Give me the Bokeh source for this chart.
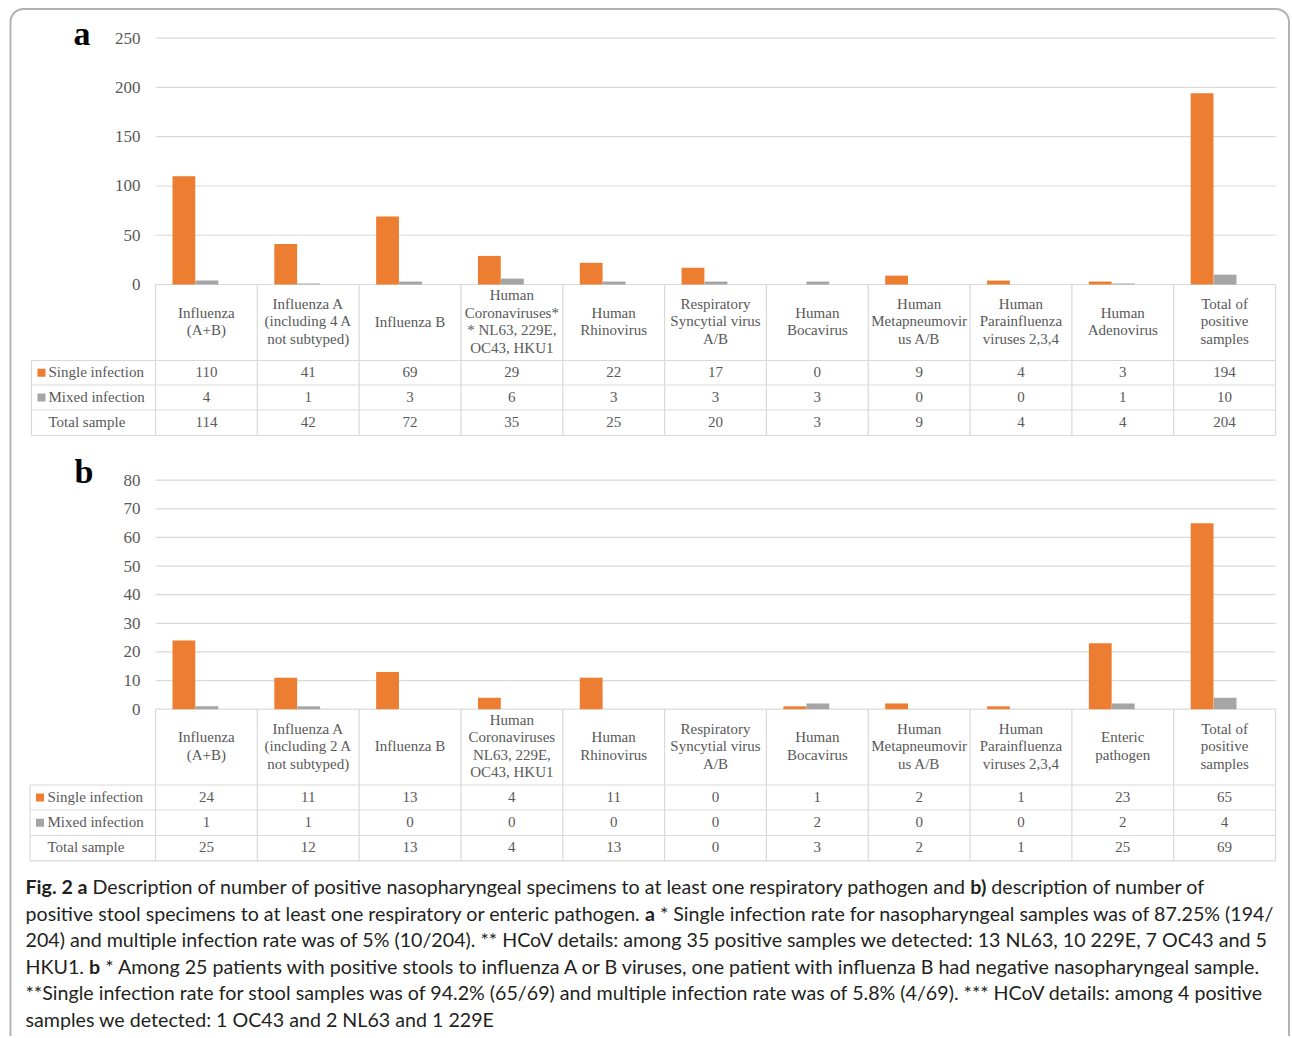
import os
import glob
import subprocess
import numpy as np
from bokeh.plotting import figure
from bokeh.models import Range1d, LinearAxis, FixedTicker, BoxAnnotation
from bokeh.embed import file_html
from bokeh.resources import INLINE
from bokeh.core.properties import value

# ------------------------------------------------------------------ data
categories_a = [
    "Influenza\n(A+B)",
    "Influenza A\n(including 4 A\nnot subtyped)",
    "Influenza B",
    "Human\nCoronaviruses*\n* NL63, 229E,\nOC43, HKU1",
    "Human\nRhinovirus",
    "Respiratory\nSyncytial virus\nA/B",
    "Human\nBocavirus",
    "Human\nMetapneumovir\nus A/B",
    "Human\nParainfluenza\nviruses 2,3,4",
    "Human\nAdenovirus",
    "Total of\npositive\nsamples",
]
single_a = [110, 41, 69, 29, 22, 17, 0, 9, 4, 3, 194]
mixed_a = [4, 1, 3, 6, 3, 3, 3, 0, 0, 1, 10]
total_a = [114, 42, 72, 35, 25, 20, 3, 9, 4, 4, 204]
ticks_a = [0, 50, 100, 150, 200, 250]

categories_b = [
    "Influenza\n(A+B)",
    "Influenza A\n(including 2 A\nnot subtyped)",
    "Influenza B",
    "Human\nCoronaviruses\nNL63, 229E,\nOC43, HKU1",
    "Human\nRhinovirus",
    "Respiratory\nSyncytial virus\nA/B",
    "Human\nBocavirus",
    "Human\nMetapneumovir\nus A/B",
    "Human\nParainfluenza\nviruses 2,3,4",
    "Enteric\npathogen",
    "Total of\npositive\nsamples",
]
single_b = [24, 11, 13, 4, 11, 0, 1, 2, 1, 23, 65]
mixed_b = [1, 1, 0, 0, 0, 0, 2, 0, 0, 2, 4]
total_b = [25, 12, 13, 4, 13, 0, 3, 2, 1, 25, 69]
ticks_b = [0, 10, 20, 30, 40, 50, 60, 70, 80]

row_labels = ["Single infection", "Mixed infection", "Total sample"]
panel_labels = ["a", "b"]

caption_lines = [
    [("Fig. 2 a", True),
     (" Description of number of positive nasopharyngeal specimens to at least one respiratory pathogen and ", False),
     ("b)", True), (" description of number of", False)],
    [("positive stool specimens to at least one respiratory or enteric pathogen. ", False), ("a", True),
     (" * Single infection rate for nasopharyngeal samples was of 87.25% (194/", False)],
    [("204) and multiple infection rate was of 5% (10/204). ** HCoV details: among 35 positive samples we detected: 13 NL63, 10 229E, 7 OC43 and 5", False)],
    [("HKU1. ", False), ("b", True),
     (" * Among 25 patients with positive stools to influenza A or B viruses, one patient with influenza B had negative nasopharyngeal sample.", False)],
    [("**Single infection rate for stool samples was of 94.2% (65/69) and multiple infection rate was of 5.8% (4/69). *** HCoV details: among 4 positive", False)],
    [("samples we detected: 1 OC43 and 2 NL63 and 1 229E", False)],
]

# ------------------------------------------------------------------ style / layout
W, H = 1290, 1036
ORANGE = "#ED7D31"
GRAY = "#A5A5A5"
GRID = "#D9D9D9"
TXT = "#595959"
CAP = "#231F20"
SERIF = "Liberation Serif"
SANS = "Lato"

X0, X1 = 155.0, 1275.0          # column area (px)
OFF_O, OFF_G, BW = -0.221, 0.005, 0.224
TXT_DY = -1.0

panels = [
    dict(cats=categories_a, single=single_a, mixed=mixed_a, total=total_a, ticks=ticks_a,
         yname="ya", y_zero=284.0, y_top=37.7, top_val=250,
         rows=[360.0, 384.5, 409.5, 435.0], tab_left=31.0, sq_x=41.0, lab_x=48.0,
         letter=(73, 33)),
    dict(cats=categories_b, single=single_b, mixed=mixed_b, total=total_b, ticks=ticks_b,
         yname="yb", y_zero=708.7, y_top=479.7, top_val=80,
         rows=[784.5, 809.5, 835.0, 860.3], tab_left=29.5, sq_x=39.5, lab_x=47.0,
         letter=(74, 471)),
]

p = figure(width=W, height=H, x_range=Range1d(0, W), y_range=Range1d(H, 0),
           output_backend="svg", toolbar_location=None,
           x_axis_type=None, y_axis_type=None, min_border=0)
p.outline_line_color = None
p.background_fill_color = "white"
p.border_fill_color = "white"

n = len(categories_a)
cw = (X1 - X0) / n
p.extra_x_ranges = {"cx": Range1d(-X0 / cw, (W - X0) / cw)}
yr = {}
for pn in panels:
    k = (pn["y_zero"] - pn["y_top"]) / pn["top_val"]
    yr[pn["yname"]] = Range1d(-(H - pn["y_zero"]) / k, pn["y_zero"] / k)
p.extra_y_ranges = yr

for i, pn in enumerate(panels):
    nc = len(pn["cats"])
    centers = np.arange(nc) + 0.5
    yn = pn["yname"]
    # gridlines
    p.segment(x0=[0] * len(pn["ticks"]), x1=[nc] * len(pn["ticks"]), y0=pn["ticks"], y1=pn["ticks"],
              x_range_name="cx", y_range_name=yn, line_color=GRID, line_width=1.2)
    # bars
    p.vbar(x=centers + OFF_O, top=pn["single"], bottom=0, width=BW, x_range_name="cx", y_range_name=yn,
           fill_color=ORANGE, line_color=None)
    p.vbar(x=centers + OFF_G, top=pn["mixed"], bottom=0, width=BW, x_range_name="cx", y_range_name=yn,
           fill_color=GRAY, line_color=None)
    # y axis
    ax = LinearAxis(y_range_name=yn, ticker=FixedTicker(ticks=pn["ticks"]), fixed_location=X0)
    ax.axis_line_color = None
    ax.major_tick_line_color = None
    ax.minor_tick_line_color = None
    ax.major_tick_in = 0
    ax.major_tick_out = 0
    ax.major_label_standoff = 15
    ax.major_label_text_font = SERIF
    ax.major_label_text_font_size = "17px"
    ax.major_label_text_color = TXT
    p.add_layout(ax, "left")

    # table grid
    rows = pn["rows"]
    p.segment(x0=list(range(nc + 1)), x1=list(range(nc + 1)), y0=[pn["y_zero"]] * (nc + 1),
              y1=[rows[-1]] * (nc + 1), x_range_name="cx", line_color=GRID, line_width=1.2)
    p.segment(x0=[pn["tab_left"]], x1=[pn["tab_left"]], y0=[rows[0]], y1=[rows[-1]],
              line_color=GRID, line_width=1.2)
    p.segment(x0=[pn["tab_left"]] * len(rows), x1=[X1] * len(rows), y0=rows, y1=rows,
              line_color=GRID, line_width=1.2)

    # header texts
    hc = (pn["y_zero"] + rows[0]) / 2 + TXT_DY
    p.text(x=centers, y=[hc] * nc, text=pn["cats"], x_range_name="cx",
           text_align="center", text_baseline="middle", text_font=value(SERIF),
           text_font_size="15px", text_color=TXT, text_line_height=1.1)
    # values
    row_c = [(rows[r] + rows[r + 1]) / 2 + TXT_DY for r in range(3)]
    for r, vals in enumerate([pn["single"], pn["mixed"], pn["total"]]):
        p.text(x=centers, y=[row_c[r]] * nc, text=[str(v) for v in vals], x_range_name="cx",
               text_align="center", text_baseline="middle", text_font=value(SERIF),
               text_font_size="15px", text_color=TXT)
    p.text(x=[pn["lab_x"]] * 3, y=row_c, text=row_labels, text_align="left", text_baseline="middle",
           text_font=value(SERIF), text_font_size="15px", text_color=TXT)
    p.scatter(x=[pn["sq_x"]] * 2, y=[c - TXT_DY for c in row_c[:2]], marker="square", size=8,
              fill_color=[ORANGE, GRAY], line_color=None)
    # panel letter
    p.text(x=[pn["letter"][0]], y=[pn["letter"][1]], text=[panel_labels[i]], text_align="left",
           text_baseline="alphabetic", text_font=value(SERIF), text_font_style="bold",
           text_font_size="34px", text_color="black")

# ------------------------------------------------------------------ caption
def find_font(fname, fcpat):
    for base in ["/usr/share/fonts", "/usr/local/share/fonts", os.path.expanduser("~/.fonts"),
                 os.path.expanduser("~/.local/share/fonts")]:
        hits = glob.glob(os.path.join(base, "**", fname), recursive=True)
        if hits:
            return hits[0]
    try:
        out = subprocess.run(["fc-match", "-f", "%{file}", fcpat], capture_output=True,
                             text=True, timeout=10).stdout.strip()
        if out and os.path.exists(out) and "lato" in out.lower():
            return out
    except Exception:
        pass
    return None

fonts = None
try:
    from PIL import ImageFont
    fr = find_font("Lato-Regular.ttf", "Lato:style=Regular")
    fb = find_font("Lato-Bold.ttf", "Lato:style=Bold")
    if fr and fb:
        fonts = {False: ImageFont.truetype(fr, 100), True: ImageFont.truetype(fb, 100)}
except Exception:
    fonts = None

def seg_w(txt, bold, size):
    if fonts is not None:
        return fonts[bold].getlength(txt) * size / 100.0
    return len(txt) * size * (0.52 if bold else 0.485)

targets = [1202.7, 1248.0, 1224.0, 1239.0, 1229.0]
ratios = []
for ln, tgt in zip(caption_lines[:5], targets):
    w100 = sum(seg_w(s, b, 100) for s, b in ln)
    ratios.append(tgt / w100 * 100)
cap_size = float(np.median(ratios))
cap_size = max(15.0, min(24.0, cap_size))

CX0 = 25.0
base0, lstep = 886.0, 26.6
reg = dict(x=[], y=[], text=[])
bold = dict(x=[], y=[], text=[])
for li, ln in enumerate(caption_lines):
    x = CX0
    y = base0 + li * lstep
    for s, b in ln:
        lead = len(s) - len(s.lstrip())
        tgt = bold if b else reg
        tgt["x"].append(x + seg_w(s[:lead], b, cap_size))
        tgt["y"].append(y)
        tgt["text"].append(s.strip())
        x += seg_w(s, b, cap_size)

fs = "%.2fpx" % cap_size
p.text(x=reg["x"], y=reg["y"], text=reg["text"], text_align="left", text_baseline="alphabetic",
       text_font=value(SANS), text_font_size=fs, text_color=CAP)
p.text(x=bold["x"], y=bold["y"], text=bold["text"], text_align="left", text_baseline="alphabetic",
       text_font=value(SANS), text_font_style="bold", text_font_size=fs, text_color=CAP)

# frame
p.add_layout(BoxAnnotation(left=10, right=W - 1.5, top=8.5, bottom=H + 40, border_radius=13,
                           fill_color=None, line_color="black", line_width=2))

open("out.html", "w").write(file_html(p, INLINE))
